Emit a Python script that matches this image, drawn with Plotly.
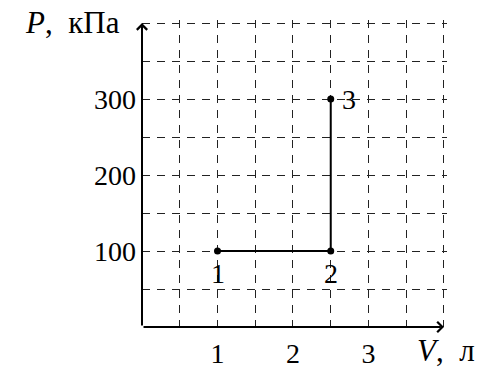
import plotly.graph_objects as go

# Data
volume_l = [1, 2.5, 2.5]
pressure_kpa = [100, 100, 300]
point_labels = ["1", "2", "3"]

x_tickvals = [0.5, 1, 1.5, 2, 2.5, 3, 3.5, 4]
x_ticktext = ["", "1", "", "2", "", "3", "", ""]
y_tickvals = [50, 100, 150, 200, 250, 300, 350, 400]
y_ticktext = ["", "100", "", "200", "", "300", "", ""]

FONT = "Liberation Serif"
FS = 28

fig = go.Figure()
fig.add_trace(go.Scatter(
    x=volume_l, y=pressure_kpa,
    mode="lines+markers",
    line=dict(color="black", width=2),
    marker=dict(color="black", size=7),
    cliponaxis=False,
    showlegend=False,
))

# point labels (offsets are styling)
label_shift = [(0, -22), (0, -22), (18, 0)]
for v, p, t, (dx, dy) in zip(volume_l, pressure_kpa, point_labels, label_shift):
    fig.add_annotation(x=v, y=p, xref="x", yref="y", text=t, showarrow=False,
                       xshift=dx, yshift=dy, xanchor="center", yanchor="middle",
                       font=dict(family=FONT, size=FS, color="black"))

grid = dict(showgrid=True, gridcolor="#222", gridwidth=1, griddash="8px,7px",
            zeroline=False, showline=False, ticks="", automargin=False,
            tickfont=dict(family=FONT, size=FS, color="black"))

fig.update_xaxes(range=[0, 4.04], tickmode="array", tickvals=x_tickvals,
                 ticktext=x_ticktext, ticklabelstandoff=7, **grid)
fig.update_yaxes(range=[0, 404], tickmode="array", tickvals=y_tickvals,
                 ticktext=y_ticktext, ticklabelstandoff=5, **grid)

# Axes with arrows
fig.add_annotation(x=4.0, y=0, ax=0, ay=0, xref="x", yref="y", axref="x", ayref="y",
                   showarrow=True, arrowhead=4, arrowsize=1, arrowwidth=2,
                   arrowcolor="black", text="")
fig.add_annotation(x=0, y=400, ax=0, ay=0, xref="x", yref="y", axref="x", ayref="y",
                   showarrow=True, arrowhead=4, arrowsize=1, arrowwidth=2,
                   arrowcolor="black", text="")

# Axis titles
fig.add_annotation(x=-0.066, y=0.993, xref="paper", yref="paper",
                   text="<i>P</i>,&nbsp;&nbsp;кПа",
                   showarrow=False, xanchor="right", yanchor="middle",
                   font=dict(family=FONT, size=31, color="black"))
fig.add_annotation(x=1.098, y=-0.075, xref="paper", yref="paper",
                   text="<i>V</i>,&nbsp;&nbsp;л",
                   showarrow=False, xanchor="right", yanchor="middle",
                   font=dict(family=FONT, size=31, color="black"))

fig.update_layout(
    width=483, height=371,
    margin=dict(l=142, r=36, t=20, b=44, autoexpand=False),
    plot_bgcolor="white", paper_bgcolor="white",
)

fig.write_html("out.html", config={"displayModeBar": False},
               post_script="document.body.style.margin='0';")
